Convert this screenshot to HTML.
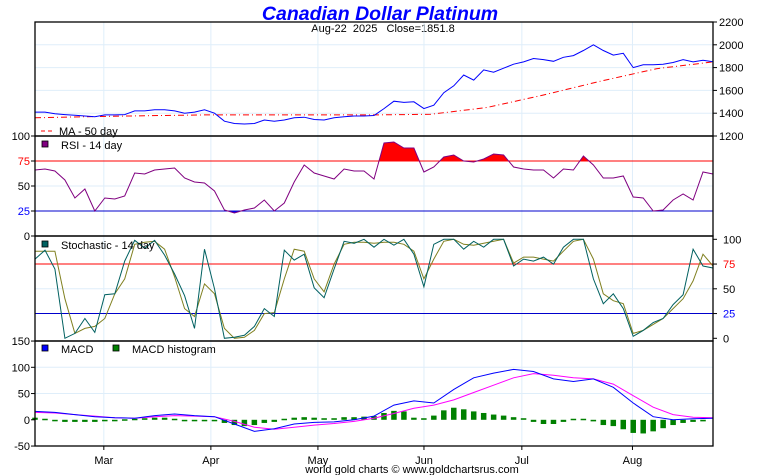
<!DOCTYPE html>
<html><head><meta charset="utf-8">
<style>
body{margin:0;background:#fff;}
svg{display:block;font-family:"Liberation Sans",sans-serif;}
</style></head>
<body>
<svg id="c" width="760" height="475" viewBox="0 0 760 475" xmlns="http://www.w3.org/2000/svg">
<text x="380" y="20" text-anchor="middle" font-size="19.5" font-weight="bold" font-style="italic" fill="#0000ff">Canadian Dollar Platinum</text>
<text x="383" y="32" text-anchor="middle" font-size="11" fill="#000" style="white-space:pre" xml:space="preserve">Aug-22  2025   Close=1851.8</text>
<text x="412" y="473" text-anchor="middle" font-size="11" fill="#000">world gold charts © www.goldchartsrus.com</text>
<g id="grid"></g><g id="marks"></g><g id="axes"></g>
</svg>
<script>
const months=["Mar","Apr","May","Jun","Jul","Aug"];
const monthDays=[13.5,34.5,55.5,76.3,95.5,117.2];
const price=[1410,1410,1395,1388,1382,1375,1368,1385,1385,1388,1420,1420,1430,1430,1420,1400,1410,1430,1400,1330,1310,1305,1310,1340,1330,1340,1360,1365,1345,1340,1360,1368,1375,1375,1380,1440,1505,1495,1500,1440,1470,1580,1640,1735,1690,1780,1760,1795,1830,1850,1880,1870,1855,1890,1905,1950,2000,1950,1910,1925,1800,1825,1825,1830,1845,1870,1850,1865,1852];
const ma50=[1360,1370,1378,1385,1385,1385,1385,1390,1450,1560,1680,1790,1850];
const rsi=[66,67,65,56,38,47,25,38,37,40,63,62,66,67,68,58,54,53,45,26,23,26,28,36,25,33,54,71,63,60,57,67,65,65,57,93,94,88,88,64,69,79,81,75,74,77,82,81,69,67,66,66,58,67,66,80,71,58,58,60,39,38,25,26,36,42,36,64,62];
const stochK=[80,89,70,0,5,20,6,44,45,78,99,91,99,84,65,43,10,90,50,0,1,3,12,30,22,89,79,85,51,41,70,98,96,100,92,100,94,100,85,52,95,100,100,90,98,92,100,100,73,80,78,82,75,92,100,100,60,35,45,30,2,8,16,20,34,44,90,73,71];
const stochD=[88,88,88,40,5,10,12,20,45,60,95,97,98,90,62,30,22,55,45,10,0,1,8,25,26,60,90,88,60,47,75,95,97,97,96,97,97,95,88,60,80,98,100,95,94,96,98,100,76,82,82,80,78,88,98,100,80,45,38,35,5,8,14,20,30,40,58,85,73];
const macd=[16,14,10,6,4,3,8,11,8,6,-8,-22,-17,-8,-5,-4,0,7,28,36,32,58,80,89,96,92,78,73,78,62,32,6,0,2,3];
const signal=[14,13,10,7,4,3,6,8,7,6,-3,-14,-18,-14,-10,-7,-3,3,12,22,28,38,52,66,80,88,85,80,78,68,46,24,10,5,4];
const hist=[4,2,-2,-4,-4,-4,-4,-2,-1,1,2,3,4,4,2,0,-2,-1,-1,-6,-10,-12,-10,-6,-4,2,4,5,4,3,3,5,5,6,7,13,17,16,4,3,8,18,23,20,16,13,10,8,5,3,-4,-8,-8,-4,2,2,-3,-10,-12,-18,-25,-26,-22,-16,-10,-6,-4,-3];
const priceTicks=[2200,2000,1800,1600,1400,1200];
const rsiTicks=[100,75,50,25,0];
const stochTicks=[100,75,50,25,0];
const macdTicks=[150,100,50,0,-50];

const NS="http://www.w3.org/2000/svg";
const X0=35,X1=713,TOTAL=133;
function mk(p,t,a){const e=document.createElementNS(NS,t);for(const k in a)e.setAttribute(k,a[k]);p.appendChild(e);return e;}
const G=document.getElementById('grid'),M=document.getElementById('marks'),A=document.getElementById('axes');
function xi(i,n){return X0+i*(X1-X0)/(n-1);}
function xd(d){return X0+d*(X1-X0)/TOTAL;}
const yP=v=>136-(v-1200)*0.114;
const yR=v=>236-v;
const yS=v=>338.3-v*0.99;
const yM=v=>419.8-v*0.525;
function path(arr,yf){return arr.map((v,i)=>(i?'L':'M')+xi(i,arr.length).toFixed(1)+','+yf(v).toFixed(1)).join('');}

months.forEach((m,k)=>{
  const x=xd(monthDays[k]);
  const l=mk(G,'line',{x1:x,x2:x,y1:22,y2:446,stroke:'#dfeefa','stroke-width':1});
  
  
  const t=mk(A,'text',{x:x,y:464,'text-anchor':'middle','font-size':11});
  t.textContent=m;
  
  
});
[1400,1600,1800,2000].forEach(v=>{const l=mk(G,'line',{x1:X0,x2:X1,y1:yP(v),y2:yP(v),stroke:'#dfeefa'});});
{const l=mk(G,'line',{x1:X0,x2:X1,y1:yR(50),y2:yR(50),stroke:'#dfeefa'});}
{const l=mk(G,'line',{x1:X0,x2:X1,y1:yS(50),y2:yS(50),stroke:'#dfeefa'});}
[100,50].forEach(v=>{const l=mk(G,'line',{x1:X0,x2:X1,y1:yM(v),y2:yM(v),stroke:'#dfeefa'});});

let e=mk(M,'path',{d:path(ma50,yP),fill:'none',stroke:'#ff0000','stroke-width':1,'stroke-dasharray':'6,3,1,3'});


e=mk(M,'path',{d:path(price,yP),fill:'none',stroke:'#0000ff','stroke-width':1});



const clipTop=mk(M,'clipPath',{id:'ct'});mk(clipTop,'rect',{x:X0,y:136,width:678,height:25});
const clipBot=mk(M,'clipPath',{id:'cb'});mk(clipBot,'rect',{x:X0,y:211,width:678,height:25});
const rp=path(rsi,yR);
e=mk(M,'path',{d:rp+'L'+X1+',161L'+X0+',161Z',fill:'#ff0000','clip-path':'url(#ct)'});


e=mk(M,'path',{d:rp+'L'+X1+',211L'+X0+',211Z',fill:'#0000ff','clip-path':'url(#cb)'});


e=mk(M,'line',{x1:X0,x2:X1,y1:yR(75),y2:yR(75),stroke:'#ff0000'});


e=mk(M,'line',{x1:X0,x2:X1,y1:yR(25),y2:yR(25),stroke:'#0000cc'});


e=mk(M,'path',{d:rp,fill:'none',stroke:'#800080','stroke-width':1});



e=mk(M,'line',{x1:X0,x2:X1,y1:yS(75),y2:yS(75),stroke:'#ff0000'});


e=mk(M,'line',{x1:X0,x2:X1,y1:yS(25),y2:yS(25),stroke:'#0000cc'});


e=mk(M,'path',{d:path(stochD,yS),fill:'none',stroke:'#808020'});


e=mk(M,'path',{d:path(stochK,yS),fill:'none',stroke:'#006060'});



hist.forEach((v,i)=>{
  const x=xi(i,hist.length+1)-2.75;
  const y0=yM(0),y1=yM(v);
  const r=mk(M,'rect',{x:x,y:Math.min(y0,y1),width:5.5,height:Math.max(1.5,Math.abs(y1-y0)),fill:'#008000'});
  
  
});
e=mk(M,'path',{d:path(signal,yM),fill:'none',stroke:'#ff00ff'});


e=mk(M,'path',{d:path(macd,yM),fill:'none',stroke:'#0000ff'});



[[22,136],[136,236],[236,341],[341,446]].forEach(p=>{
  const r=mk(A,'rect',{x:X0,y:p[0],width:X1-X0,height:p[1]-p[0],fill:'none',stroke:'#000','stroke-width':1.3});
  
  
});
function tick(x1,x2,y){mk(A,'line',{x1:x1,x2:x2,y1:y,y2:y,stroke:'#000'});}
function lab(x,y,s,anchor,color,name){const t=mk(A,'text',{x:x,y:y+4,'text-anchor':anchor,'font-size':11,fill:color||'#000'});t.textContent=s;}
priceTicks.forEach(v=>{tick(X1,X1+4,yP(v));lab(X1+6,yP(v),String(v),'start','#000','price-tick-label');});
rsiTicks.forEach(v=>{tick(X0-4,X0,yR(v));lab(X0-5,yR(v),String(v),'end',v==75?'#ff0000':v==25?'#0000ff':'#000','rsi-tick-label');});
stochTicks.forEach(v=>{tick(X1,X1+4,yS(v));lab(X1+10,yS(v),String(v),'start',v==75?'#ff0000':v==25?'#0000ff':'#000','stoch-tick-label');});
macdTicks.forEach(v=>{tick(X0-4,X0,yM(v));lab(X0-5,yM(v),String(v),'end','#000','macd-tick-label');});
months.forEach((m,k)=>{const x=xd(monthDays[k]);mk(A,'line',{x1:x,x2:x,y1:446,y2:450,stroke:'#000'});});

function leg(x,y,color,text,name){
  const g=mk(A,'g',{});
  
  
  mk(g,'rect',{x:x,y:y-4,width:6,height:6,fill:color,stroke:'#000','stroke-width':0.8});
  const t=mk(g,'text',{x:x+19,y:y+4,'font-size':11});t.textContent=text;
}
{const g=mk(A,'g',{});
 mk(g,'line',{x1:41,x2:55,y1:131,y2:131,stroke:'#ff0000','stroke-dasharray':'4,3'});
 const t=mk(g,'text',{x:59,y:135,'font-size':11});t.textContent='MA - 50 day';}
leg(42,145,'#800080','RSI - 14 day','legend-rsi');
leg(42,245,'#006060','Stochastic - 14 day','legend-stochastic');
leg(42,349,'#0000ff','MACD','legend-macd');
leg(113,349,'#008000','MACD histogram','legend-macd-histogram');
</script>
</body></html>
